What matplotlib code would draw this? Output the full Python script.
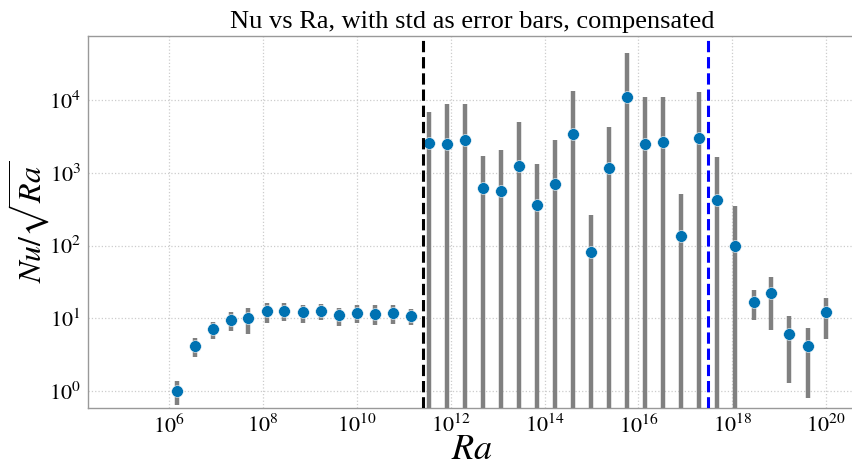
import numpy as np
import matplotlib
matplotlib.use("Agg")
import matplotlib.pyplot as plt

# ---- data ----
log_ra = [6.158, 6.548, 6.926, 7.309, 7.685, 8.077, 8.453, 8.845, 9.229, 9.619,
          9.997, 10.387, 10.764, 11.155, 11.545, 11.923, 12.313, 12.697, 13.080, 13.464,
          13.842, 14.226, 14.616, 14.993, 15.384, 15.761, 16.151, 16.529, 16.919, 17.296,
          17.687, 18.064, 18.455, 18.838, 19.222, 19.606, 20.0]
nu_comp = [1.0, 4.13, 7.0, 9.3, 10.0, 12.4, 12.6, 12.0, 12.6, 10.9,
           11.9, 11.5, 11.8, 10.8, 2606, 2478, 2840, 614, 563, 1245,
           361, 703, 3404, 80.6, 1180, 11100, 2478, 2690, 134, 2998,
           428, 98.4, 16.8, 22.0, 5.98, 4.09, 12.1]
nu_std = [0.37, 1.2, 1.9, 2.75, 4.0, 3.75, 3.5, 3.4, 3.3, 3.1,
          3.4, 3.5, 3.6, 2.7, 4300, 6400, 5970, 1100, 1500, 3780,
          966, 2110, 10150, 182, 3110, 34200, 8600, 8300, 373, 9900,
          1212, 252, 7.5, 15.2, 4.7, 3.3, 7.0]
ra_black = 2.57e11
ra_blue = 3.0e17
xtick_exp = [6, 8, 10, 12, 14, 16, 18, 20]
ytick_exp = [0, 1, 2, 3, 4]

plt.rcParams['font.family'] = ['Liberation Serif', 'DejaVu Serif']
plt.rcParams['mathtext.fontset'] = 'stix'

ra = 10 ** np.array(log_ra)
y = np.array(nu_comp)
err = np.array(nu_std)

fig = plt.figure(figsize=(8.52, 4.67), dpi=100)
ax = fig.add_axes([88/852, (467-408)/467, (856-88)/852, (408-36)/467])
ax.set_xscale('log')
ax.set_yscale('log')

ax.errorbar(ra, y, yerr=err, fmt='o', color='#0072b2', ecolor='gray',
            elinewidth=3.2, capsize=0, markersize=8.5, markeredgecolor='white',
            markeredgewidth=0.4, zorder=3)
ax.axvline(ra_black, color='black', linestyle='--', linewidth=2.2, zorder=4)
ax.axvline(ra_blue, color='blue', linestyle='--', linewidth=2.2, zorder=4)

ax.set_xlim(10**4.266, 10**20.64)
ax.set_ylim(10**-0.238, 10**4.886)
ax.set_xticks([10.0**e for e in xtick_exp])
ax.set_xticklabels([r'$10^{%d}$' % e for e in xtick_exp])
ax.set_yticks([10.0**e for e in ytick_exp])
ax.set_yticklabels([r'$10^{%d}$' % e for e in ytick_exp])
ax.minorticks_off()
ax.tick_params(axis='both', which='both', length=0, labelsize=16, pad=5)

ax.grid(True, which='major', color='#cccccc', linestyle=':', linewidth=0.9)
ax.set_axisbelow(True)
for s in ax.spines.values():
    s.set_color('#999999')
    s.set_linewidth(1.0)

ax.set_title('Nu vs Ra, with std as error bars, compensated', fontsize=19, pad=6)
ax.set_xlabel(r'$Ra$', fontsize=26, labelpad=-3)
ax.set_ylabel(r'$Nu/\sqrt{Ra}$', fontsize=23, labelpad=-2)

fig.savefig('out.png', dpi=100)
